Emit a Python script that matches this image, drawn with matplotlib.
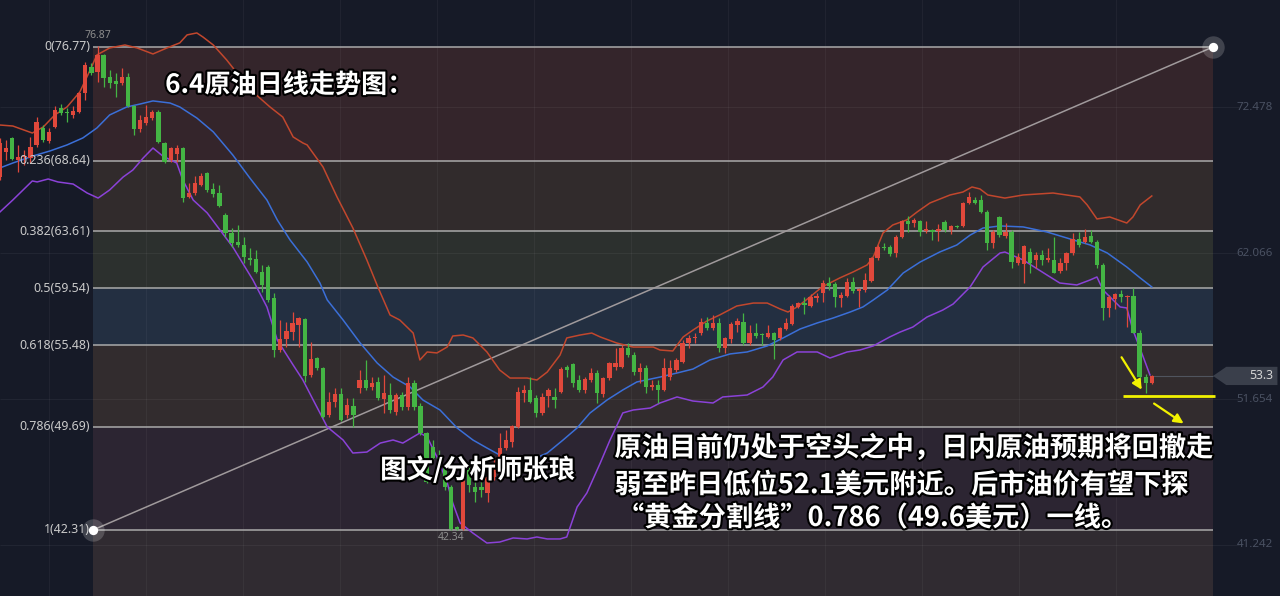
import matplotlib
matplotlib.use('Agg')
import matplotlib.pyplot as plt
import matplotlib.patheffects as pe
from matplotlib.patches import Polygon
import numpy as np

# daily candles (index 0..189), prices in USD
opens = [67.49, 69.28, 70.28, 68.71, 68.92, 68.85, 69.78, 70.99, 70.06, 71.06,
         72.42, 72.13, 71.92, 72.13, 73.49, 75.34, 74.99, 76.20, 74.63, 74.34,
         74.20, 74.63, 72.56, 70.92, 71.35, 71.70, 72.13, 69.92, 68.71, 69.13,
         69.56, 66.07, 66.35, 66.92, 67.78, 66.64, 66.35, 64.78, 63.50, 62.86,
         62.64, 61.71, 61.64, 60.72, 61.07, 58.86, 55.15, 55.93, 56.43, 56.93,
         57.36, 53.37, 54.58, 53.87, 50.51, 51.44, 52.01, 50.51, 51.15, 52.44,
         53.01, 52.51, 52.87, 51.66, 51.94, 50.73, 51.94, 51.08, 52.80, 51.15,
         49.23, 48.23, 47.52, 46.73, 45.37, 42.55, 42.40, 46.59, 45.37, 45.37,
         44.95, 46.09, 47.52, 48.16, 48.59, 49.66, 52.08, 52.30, 51.73, 50.65,
         51.87, 51.80, 52.15, 53.94, 54.15, 53.01, 52.30, 53.01, 53.51, 52.01,
         53.15, 53.94, 53.94, 55.29, 54.79, 53.58, 53.87, 52.51, 52.65, 52.30,
         53.22, 53.72, 54.30, 55.65, 56.00, 56.36, 57.08, 56.72, 57.08, 55.29,
         55.93, 56.93, 57.15, 55.65, 56.36, 56.29, 56.08, 56.36, 56.01, 56.65,
         57.00, 58.22, 58.50, 58.29, 58.86, 59.22, 59.93, 59.86, 58.86, 58.99,
         60.00, 59.36, 59.43, 60.07, 61.72, 62.50, 62.50, 62.07, 63.21, 64.35,
         64.21, 64.35, 63.64, 63.71, 63.64, 64.28, 63.71, 64.00, 64.00, 65.64,
         65.85, 65.85, 65.00, 62.79, 64.64, 63.28, 63.57, 61.36, 61.29, 62.14,
         61.57, 61.93, 61.57, 61.57, 60.78, 61.36, 62.07, 63.07, 62.86, 63.28,
         62.86, 61.21, 58.15, 58.79, 59.15, 58.93, 59.00, 56.36, 53.22, 52.80]
highs = [70.28, 70.13, 70.35, 69.78, 69.42, 70.35, 71.77, 71.20, 70.99, 72.56,
         72.70, 72.42, 72.56, 73.56, 75.70, 75.63, 76.87, 76.27, 75.13, 74.91,
         75.27, 74.91, 72.63, 71.92, 72.63, 72.27, 72.27, 69.99, 69.63, 69.78,
         69.60, 67.07, 67.57, 67.78, 67.85, 67.07, 66.92, 64.92, 63.86, 64.07,
         63.21, 62.43, 62.29, 61.22, 61.22, 59.22, 57.29, 57.15, 57.86, 57.50,
         57.43, 55.72, 54.65, 53.94, 52.15, 52.44, 52.44, 51.72, 51.72, 53.72,
         54.44, 53.22, 53.22, 53.37, 52.80, 52.08, 52.15, 53.22, 53.01, 51.37,
         49.30, 48.73, 48.01, 46.95, 45.52, 42.62, 46.73, 46.80, 46.37, 46.09,
         46.80, 47.52, 49.23, 49.44, 49.80, 52.51, 52.65, 53.22, 51.94, 52.08,
         52.44, 52.44, 53.94, 54.08, 54.23, 53.37, 53.22, 53.87, 53.72, 53.22,
         54.30, 55.29, 55.51, 55.65, 55.01, 54.23, 54.08, 53.01, 53.01, 54.58,
         54.44, 54.58, 55.86, 56.22, 56.36, 57.43, 57.50, 57.65, 57.43, 56.08,
         57.15, 57.43, 57.79, 56.93, 57.08, 56.36, 56.93, 56.40, 56.79, 57.43,
         58.43, 58.57, 58.93, 59.15, 59.22, 60.15, 60.36, 60.00, 59.29, 60.29,
         60.36, 59.58, 60.64, 61.79, 62.64, 62.79, 62.64, 63.35, 64.43, 64.71,
         64.57, 64.43, 64.35, 63.78, 64.14, 64.43, 64.07, 64.07, 65.71, 66.42,
         66.07, 66.21, 65.14, 63.71, 64.71, 64.21, 63.71, 62.07, 62.64, 62.43,
         62.14, 62.29, 62.43, 63.21, 61.71, 62.14, 63.50, 63.57, 63.78, 63.71,
         63.00, 61.36, 59.08, 59.22, 59.43, 59.08, 59.58, 56.58, 53.44, 53.37]
lows = [67.28, 68.71, 68.71, 67.85, 68.35, 68.49, 69.63, 69.99, 69.92, 70.99,
        71.92, 71.42, 71.70, 72.06, 72.99, 74.77, 74.27, 73.92, 73.84, 73.20,
        74.06, 72.49, 70.49, 70.71, 71.20, 71.56, 69.92, 68.49, 68.56, 68.56,
        65.71, 65.99, 66.21, 66.85, 66.42, 66.07, 65.35, 63.21, 62.50, 62.50,
        61.36, 61.22, 60.64, 59.29, 58.57, 54.65, 55.00, 55.36, 55.86, 55.36,
        52.87, 53.22, 53.72, 50.30, 50.37, 51.08, 50.10, 50.30, 49.66, 52.08,
        52.30, 52.30, 51.58, 50.65, 50.65, 50.51, 50.87, 50.87, 50.87, 49.08,
        45.66, 47.30, 46.23, 45.16, 42.34, 42.34, 42.34, 45.02, 44.31, 44.66,
        44.31, 45.88, 47.44, 48.02, 48.23, 49.59, 51.44, 51.37, 50.37, 50.51,
        51.08, 51.01, 52.08, 53.22, 52.51, 52.15, 52.08, 52.87, 51.37, 51.80,
        53.01, 53.72, 53.87, 54.65, 53.37, 52.80, 52.08, 52.30, 51.37, 52.25,
        53.01, 53.58, 54.23, 55.29, 55.65, 56.22, 56.58, 56.58, 55.01, 54.94,
        55.65, 56.43, 55.51, 55.51, 56.00, 55.51, 56.00, 54.51, 55.86, 56.58,
        56.93, 58.15, 57.72, 58.22, 58.57, 58.57, 59.43, 58.22, 58.22, 58.93,
        59.22, 58.22, 59.29, 60.00, 61.57, 62.29, 61.86, 61.79, 63.14, 63.57,
        63.93, 63.29, 63.50, 63.00, 62.93, 63.57, 63.43, 63.86, 63.93, 65.56,
        65.56, 64.92, 62.29, 62.43, 63.21, 63.14, 61.00, 61.22, 59.93, 60.64,
        61.00, 61.22, 61.43, 60.64, 60.64, 60.86, 61.93, 62.50, 62.79, 62.79,
        61.00, 57.29, 57.50, 58.08, 58.57, 56.79, 56.36, 53.01, 52.08, 52.75]
closes = [69.92, 69.56, 68.78, 68.92, 68.95, 69.63, 71.42, 70.13, 70.71, 72.27,
          72.06, 72.06, 72.20, 73.49, 75.49, 74.91, 76.20, 74.56, 74.20, 74.13,
          74.63, 72.56, 70.92, 71.56, 71.77, 72.13, 69.99, 68.56, 69.56, 69.56,
          65.99, 66.35, 67.07, 67.57, 66.57, 66.28, 65.42, 63.50, 62.79, 62.64,
          61.79, 61.57, 60.72, 59.79, 58.72, 55.15, 55.93, 56.51, 57.08, 57.43,
          53.29, 54.51, 53.87, 50.37, 51.44, 52.01, 50.15, 51.23, 50.51, 53.01,
          52.44, 52.80, 51.73, 52.08, 50.87, 51.94, 51.08, 52.80, 51.08, 49.23,
          45.73, 47.45, 46.59, 45.37, 42.40, 42.40, 46.59, 45.52, 45.02, 45.16,
          46.09, 46.73, 48.16, 48.73, 49.73, 52.15, 52.30, 51.44, 50.65, 51.80,
          52.30, 51.58, 53.79, 53.72, 52.80, 52.30, 53.08, 53.51, 52.08, 53.15,
          54.23, 54.23, 55.29, 54.79, 53.58, 53.87, 52.51, 52.65, 52.30, 53.87,
          53.87, 54.44, 55.65, 56.00, 56.08, 57.15, 56.72, 57.08, 55.29, 56.00,
          57.01, 57.22, 55.65, 56.36, 56.15, 56.22, 56.36, 55.86, 56.72, 57.08,
          58.29, 58.50, 58.36, 58.93, 59.00, 59.93, 59.72, 58.93, 59.08, 60.00,
          59.36, 59.50, 60.15, 61.72, 62.50, 62.45, 62.00, 63.21, 64.35, 64.14,
          64.43, 63.57, 63.78, 63.57, 63.78, 63.71, 64.00, 63.93, 65.64, 66.07,
          65.64, 65.00, 62.79, 63.57, 63.35, 63.57, 61.43, 61.79, 62.57, 61.36,
          61.93, 61.57, 61.71, 60.64, 61.36, 62.07, 63.07, 62.64, 63.21, 62.86,
          61.21, 58.15, 58.93, 59.15, 58.93, 59.00, 56.36, 53.22, 52.80, 53.30]

# bollinger bands (bar index, price)
upper_x = [0, 2.1, 5.3, 7.1, 9.0, 11.0, 13.1, 14.8, 15.9, 18.0, 20.5, 22.5, 25.1, 27.4, 29.5,
           30.7, 32.3, 33.3, 35.0, 37.2, 39.4, 41.5, 44.3, 46.4, 48.1, 49.7, 50.4, 53.0, 55.3,
           57.9, 60.2, 62.0, 64.0, 65.6, 67.8, 68.9, 70.1, 71.7, 73.4, 74.3, 76.0, 77.6, 79.9,
           82.0, 83.7, 86.5, 88.1, 89.8, 91.9, 93.0, 95.2, 97.1, 98.5, 101.2, 103.9, 107.2,
           108.3, 110.4, 112.1, 113.7, 116.0, 118.1, 120.9, 123.6, 125.9, 128.0, 129.3, 130.8,
           132.9, 134.9, 137.8, 140.0, 142.3, 143.3, 144.9, 146.5, 148.8, 150.5, 152.6, 155.9,
           158.0, 159.5, 160.8, 162.1, 164.9, 167.9, 172.8, 177.2, 178.4, 180.0, 182.1, 184.9,
           185.9, 187.1, 189.0]
upper_v = [71.20, 71.13, 70.63, 71.06, 71.92, 72.49, 73.56, 75.13, 76.20, 76.70, 76.91, 76.70,
           76.27, 76.70, 77.06, 77.63, 77.77, 77.48, 76.91, 75.84, 74.63, 73.56, 72.49, 71.77,
           70.35, 69.92, 69.78, 68.21, 66.07, 63.86, 61.57, 59.65, 57.65, 57.29, 56.36, 54.44,
           55.01, 54.94, 55.37, 56.15, 56.22, 56.01, 55.01, 53.72, 53.15, 53.15, 53.01, 53.58,
           54.79, 56.01, 56.22, 56.36, 56.08, 55.65, 55.36, 55.36, 55.15, 55.08, 56.08, 56.57,
           57.22, 57.65, 58.29, 58.50, 58.50, 58.08, 57.86, 58.22, 58.93, 59.65, 60.29, 60.72,
           61.22, 61.79, 63.50, 64.07, 64.43, 65.00, 65.64, 66.21, 66.42, 66.78, 66.64, 66.21,
           65.99, 66.21, 66.35, 66.07, 65.50, 64.50, 64.64, 64.21, 64.64, 65.50, 66.14]
mid_x = [0, 2.1, 5.4, 8.2, 11.0, 13.6, 15.9, 18.0, 20.8, 23.0, 25.1, 27.9, 29.5, 32.3, 35.0,
         38.2, 41.0, 43.8, 45.5, 47.6, 50.4, 52.5, 53.7, 56.3, 59.1, 61.9, 64.5, 67.3, 69.4,
         72.2, 75.0, 77.6, 79.9, 82.0, 84.2, 87.5, 89.8, 92.4, 94.7, 96.8, 99.6, 102.2, 104.5,
         108.3, 111.1, 113.7, 116.5, 119.8, 122.6, 125.9, 128.5, 131.3, 134.1, 136.7, 139.5,
         141.6, 143.3, 145.6, 148.2, 151.0, 154.2, 157.0, 159.2, 161.3, 164.1, 167.9, 171.8,
         175.6, 178.9, 181.7, 184.9, 187.1, 189.0]
mid_v = [68.14, 68.49, 68.99, 69.35, 69.78, 70.28, 70.99, 71.92, 72.49, 72.70, 72.92, 72.77,
         72.49, 71.70, 70.71, 69.06, 67.42, 65.85, 64.43, 63.00, 61.43, 59.93, 58.72, 57.29,
         55.65, 54.22, 53.22, 52.51, 51.58, 50.87, 49.59, 48.73, 48.16, 47.66, 47.44, 47.37,
         47.80, 48.73, 49.59, 50.65, 51.58, 52.30, 52.87, 53.22, 53.51, 53.79, 54.44, 54.87,
         55.01, 55.44, 56.01, 56.65, 57.08, 57.43, 57.86, 58.22, 58.72, 59.43, 60.64, 61.43,
         62.14, 62.64, 63.35, 63.85, 64.00, 63.93, 63.57, 63.07, 62.64, 62.07, 61.07, 60.29,
         59.65]
low_x = [0, 2.1, 5.3, 6.1, 7.9, 9.5, 12.0, 14.3, 16.1, 18.0, 20.2, 21.8, 23.5, 25.1, 26.7,
         29.0, 30.0, 31.7, 34.0, 36.1, 38.2, 41.5, 43.8, 45.5, 48.1, 49.7, 51.4, 53.7, 56.3,
         57.9, 60.2, 62.4, 64.5, 66.1, 68.9, 70.1, 71.7, 73.4, 74.3, 75.5, 77.6, 79.9, 82.0,
         84.2, 86.5, 88.1, 89.8, 91.9, 93.0, 94.7, 96.3, 98.5, 100.1, 102.2, 103.9, 106.7,
         108.3, 111.1, 113.7, 117.0, 118.6, 122.6, 125.2, 126.8, 128.5, 130.8, 134.1, 136.2,
         139.0, 141.1, 143.3, 146.0, 147.7, 149.8, 152.1, 154.7, 156.4, 159.2, 161.3, 164.1,
         164.9, 167.9, 171.8, 173.9, 176.7, 178.9, 180.0, 181.0, 183.8, 184.9, 185.9, 187.6,
         188.7]
low_v = [65.00, 65.85, 67.21, 67.14, 67.35, 67.14, 66.99, 66.35, 65.99, 66.57, 67.49, 67.99,
         68.85, 69.56, 68.99, 68.49, 67.28, 65.85, 64.93, 63.71, 62.50, 60.15, 58.22, 55.86,
         54.08, 53.01, 51.58, 49.66, 48.73, 47.80, 47.87, 48.51, 48.73, 48.51, 49.23, 48.94,
         47.52, 45.66, 44.23, 42.81, 42.09, 41.38, 41.45, 41.74, 41.67, 41.81, 41.67, 41.67,
         41.81, 43.95, 44.95, 47.09, 48.73, 50.66, 50.87, 51.01, 51.37, 51.80, 51.51, 51.37,
         51.80, 51.94, 52.51, 53.22, 54.44, 55.01, 55.01, 54.58, 55.01, 55.15, 55.44, 56.08,
         56.43, 56.79, 57.50, 58.00, 58.43, 59.65, 61.07, 62.07, 62.14, 61.57, 60.50, 59.93,
         59.79, 60.15, 60.36, 59.43, 58.22, 58.15, 56.58, 54.65, 53.37]

fib_ratios = ['0', '0.236', '0.382', '0.5', '0.618', '0.786', '1']
fib_prices = [76.77, 68.64, 63.61, 59.54, 55.48, 49.69, 42.31]
fib_colors = ['#34252b', '#312b2c', '#2c302e', '#232f41', '#322c2e', '#2c2532']
axis_ticks = [72.478, 62.066, 51.654, 41.242]
last_price = 53.3
support = 51.9
peak_label, trough_label = 76.87, 42.34

title = '6.4原油日线走势图：'
author = '图文/分析师张琅'
comment = ['原油目前仍处于空头之中，日内原油预期将回撤走',
           '弱至昨日低位52.1美元附近。后市油价有望下探',
           '“黄金分割线”0.786（49.6美元）一线。']

BG = '#161a27'
UP, DOWN = '#e0483b', '#44b544'
CJK = ['Noto Sans CJK SC', 'DejaVu Sans']

fig = plt.figure(figsize=(12.8, 5.96), dpi=100, facecolor=BG)
ax = fig.add_axes([0, 0, 1, 1])
ax.set_facecolor(BG)
xmin, xmax = 0, 210.04
ymin, ymax = 37.60, 80.12
ax.set_xlim(xmin, xmax)
ax.set_ylim(ymin, ymax)
ax.axis('off')

# fibonacci box, anchored on the swing low (left) and right edge of the plot
fx0, fx1 = 15.26, 199.05
for i in range(len(fib_colors)):
    ax.fill_between([fx0, fx1], fib_prices[i + 1], fib_prices[i], color=fib_colors[i], lw=0, zorder=0)
ax.fill_between([fx0, fx1], ymin, fib_prices[-1], color='#302b31', lw=0, zorder=0)

# faint grid
for gx in np.arange(8, 190, 15.92):
    ax.axvline(gx, color='white', alpha=0.045, lw=0.8, zorder=0.5)
for t in axis_ticks:
    ax.hlines(t, xmin, 203.3, color='white', alpha=0.05, lw=0.8, zorder=0.5)
    ax.text(0.9945, t, f'{t:.3f}', transform=ax.get_yaxis_transform(), ha='right', va='center',
            fontsize=8.3, color='#4a5162', family='Noto Sans')

for r, p in zip(fib_ratios, fib_prices):
    ax.hlines(p, fx0, fx1, color='#aaaaaa', lw=1.1, zorder=1)
    ax.annotate(f'{r}({p:.2f})', (fx0, p), xytext=(-2, 0), textcoords='offset points',
                ha='right', va='center', fontsize=8.9, color='#cacaca', family='Noto Sans', zorder=5)

# diagonal of the fib tool
ax.plot([fx0, fx1], [fib_prices[-1], fib_prices[0]], color='#a09a9c', lw=1.1, zorder=1.5)
ax.scatter([fx0, fx1], [fib_prices[-1], fib_prices[0]], s=260, color='white', alpha=0.18, lw=0, zorder=6)
ax.scatter([fx0, fx1], [fib_prices[-1], fib_prices[0]], s=45, color='white', lw=0, zorder=6)

# bollinger bands
ax.plot(upper_x, upper_v, color='#c2472d', lw=1.1, zorder=2)
ax.plot(mid_x, mid_v, color='#3b6fd8', lw=1.1, zorder=2)
ax.plot(low_x, low_v, color='#8b42d8', lw=1.1, zorder=2)

# candles
o, h, l, c = map(np.array, (opens, highs, lows, closes))
idx = np.arange(len(o))
cols = np.where(c >= o, UP, DOWN)
ax.vlines(idx, l, h, colors=cols, lw=0.9, zorder=3)
body = np.maximum(np.abs(c - o), 0.08)
ax.bar(idx, body, bottom=np.minimum(o, c), width=0.7, color=cols, lw=0, zorder=3.1)

ax.annotate(f'{peak_label}', (16, peak_label), xytext=(0, 3), textcoords='offset points',
            ha='center', va='bottom', fontsize=7.5, color='#8d8d8d', family='Noto Sans')
ax.annotate(f'{trough_label}', (74, trough_label), xytext=(0, -2), textcoords='offset points',
            ha='center', va='top', fontsize=7.5, color='#8d8d8d', family='Noto Sans')

# last price line and tag
ax.hlines(last_price, len(o) - 1, fx1, color='#50545e', lw=0.8, zorder=2)
ytr = ax.get_yaxis_transform()
tag = Polygon([[0.9477, last_price], [0.958, last_price + 0.65], [0.998, last_price + 0.65],
               [0.998, last_price - 0.65], [0.958, last_price - 0.65]],
              closed=True, transform=ytr, facecolor='#3a3f4b', edgecolor='none', zorder=6)
ax.add_patch(tag)
ax.text(0.9945, last_price, f'{last_price}', transform=ytr, ha='right', va='center',
        fontsize=8.8, color='#d4d4d4', family='Noto Sans', zorder=7)

# yellow markup
yel = '#f2f200'
ax.hlines(support, 184.3, 199.4, color=yel, lw=2, zorder=6)
ax.annotate('', xy=(187.6, 52.15), xytext=(183.8, 54.8),
            arrowprops=dict(arrowstyle='-|>', color=yel, lw=1.6, mutation_scale=14), zorder=6)
ax.annotate('', xy=(194.6, 49.8), xytext=(189.0, 51.44),
            arrowprops=dict(arrowstyle='-|>', color=yel, lw=1.6, mutation_scale=14), zorder=6)

# text overlays
outline = [pe.withStroke(linewidth=3, foreground='black')]
ax.text(0.129, 0.857, title, transform=ax.transAxes, ha='left', va='center', fontsize=18.8,
        color='white', family=CJK, weight='bold', path_effects=outline, zorder=8)
ax.text(0.297, 0.211, author, transform=ax.transAxes, ha='left', va='center', fontsize=19,
        color='white', family=CJK, weight='bold', path_effects=outline, zorder=8)
for line, (tx, ty) in zip(comment, [(0.480, 0.248), (0.480, 0.186), (0.482, 0.131)]):
    ax.text(tx, ty, line, transform=ax.transAxes, ha='left', va='center', fontsize=19.6,
            color='white', family=CJK, weight='bold', path_effects=outline, zorder=8)

fig.savefig('out.png', dpi=100, facecolor=BG)
